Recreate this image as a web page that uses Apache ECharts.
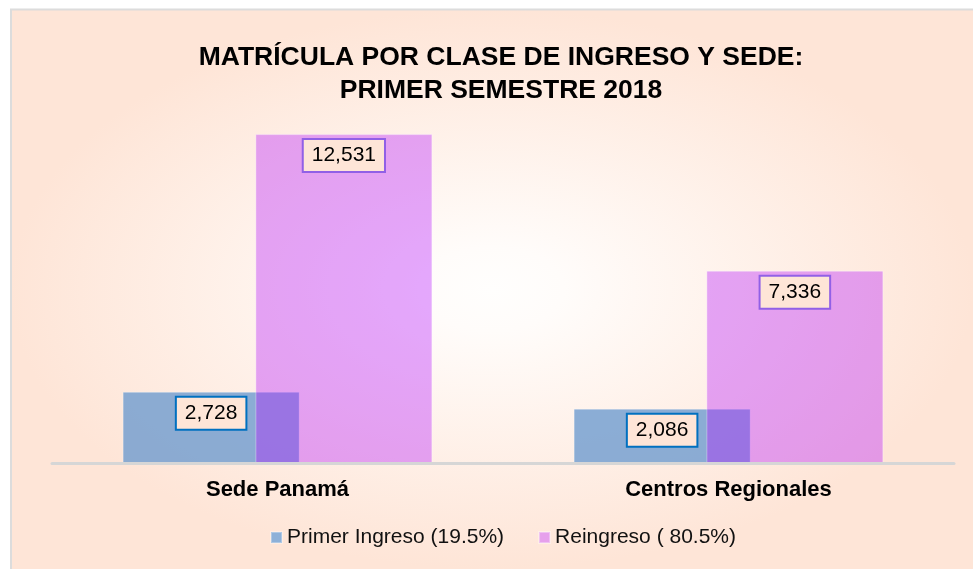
<!DOCTYPE html>
<html>
<head>
<meta charset="utf-8">
<script src="https://cdn.jsdelivr.net/npm/echarts@6/dist/echarts.min.js"></script>
<style>
  html, body { margin: 0; padding: 0; background: #ffffff; }
  #chart { width: 973px; height: 569px; }
</style>
</head>
<body>
<div id="chart"></div>
<script>
// ---- data ----
const categories = ['Sede Panamá', 'Centros Regionales'];
const primerIngreso = [2728, 2086];
const reingreso = [12531, 7336];
const seriesNames = ['Primer Ingreso (19.5%)', 'Reingreso ( 80.5%)'];
const titleLines = ['MATRÍCULA POR CLASE DE INGRESO Y SEDE:', 'PRIMER SEMESTRE 2018'];

const FONT = '"Liberation Sans", Arial, sans-serif';
const W = 973, H = 569;
const fx = 10, fy = 9;
const TITLE_SIZE = 26.5;
const TITLE_CENTER = 501;
const TITLE_TOP = 41;
const TITLE_LINE = 33;

// measure each title line to center it at TITLE_CENTER
const mctx = document.createElement('canvas').getContext('2d');
mctx.font = 'bold ' + TITLE_SIZE + 'px ' + FONT;

const titles = titleLines.map((t, i) => ({
  text: t,
  left: TITLE_CENTER - mctx.measureText(t).width / 2,
  top: TITLE_TOP + i * TITLE_LINE,
  padding: 0,
  textStyle: {
    fontFamily: FONT,
    fontSize: TITLE_SIZE,
    fontWeight: 'bold',
    color: '#000000',
    lineHeight: TITLE_LINE
  }
}));

const chart = echarts.init(document.getElementById('chart'), null, { renderer: 'canvas' });

function fmt(p) { return p.value.toLocaleString('en-US'); }

const option = {
  backgroundColor: '#ffffff',
  animation: false,
  graphic: [
    {
      type: 'rect',
      silent: true,
      z: -20,
      x: fx, y: fy,
      scaleX: 1, scaleY: (H - fy) / (W - fx),
      shape: { x: 0, y: 0, width: W - fx, height: W - fx },
      style: {
        fill: {
          type: 'radial', x: 0.5, y: 0.5, r: 0.5,
          colorStops: [
            { offset: 0, color: '#fffefd' },
            { offset: 0.15, color: '#fffcfa' },
            { offset: 1, color: '#fee5d7' }
          ]
        }
      }
    },
    {
      type: 'rect',
      silent: true,
      z: -19,
      shape: { x: fx + 1, y: fy + 0.5, width: W + 10, height: H + 10 },
      style: { fill: null, stroke: '#dcdcdc', lineWidth: 2 }
    }
  ],
  title: titles,
  legend: {
    left: 270,
    top: 527,
    padding: 0,
    itemWidth: 11,
    itemHeight: 11,
    itemGap: 34,
    icon: 'rect',
    textStyle: { fontFamily: FONT, fontSize: 21, color: '#111111' },
    data: [
      { name: seriesNames[0], itemStyle: { color: '#8db0d8' } },
      { name: seriesNames[1], itemStyle: { color: '#e6a0ec' } }
    ]
  },
  grid: { left: 52, right: 19, top: 95.5, bottom: 105.5, containLabel: false },
  xAxis: {
    type: 'category',
    data: categories,
    z: 10,
    axisLine: { show: true, lineStyle: { color: '#d6d6d6', width: 3 } },
    axisTick: { show: false },
    axisLabel: {
      margin: 15,
      fontFamily: FONT,
      fontSize: 22,
      fontWeight: 'bold',
      color: '#000000'
    }
  },
  yAxis: {
    type: 'value',
    min: 0,
    max: 14000,
    show: false,
    splitLine: { show: false }
  },
  series: [
    {
      name: seriesNames[0],
      type: 'bar',
      data: primerIngreso,
      barWidth: 177,
      barGap: '-25%',
      itemStyle: {
        color: 'rgba(100,150,205,0.75)',
        borderColor: 'rgba(255,255,255,0.3)',
        borderWidth: 1
      },
      label: {
        show: true,
        position: 'insideTop',
        distance: 6,
        formatter: fmt,
        fontFamily: FONT,
        fontSize: 21,
        color: '#000000',
        backgroundColor: '#fee5d7',
        borderColor: '#0070c0',
        borderWidth: 2,
        padding: [5, 8]
      }
    },
    {
      name: seriesNames[1],
      type: 'bar',
      data: reingreso,
      barWidth: 177,
      barGap: '-25%',
      itemStyle: {
        color: 'rgba(181,17,255,0.36)',
        borderColor: 'rgba(255,255,255,0.35)',
        borderWidth: 1
      },
      label: {
        show: true,
        position: 'insideTop',
        distance: 6,
        formatter: fmt,
        fontFamily: FONT,
        fontSize: 21,
        color: '#000000',
        backgroundColor: '#fee5d7',
        borderColor: '#9160e6',
        borderWidth: 2,
        padding: [5, 8]
      }
    }
  ]
};

chart.setOption(option);
</script>
</body>
</html>
